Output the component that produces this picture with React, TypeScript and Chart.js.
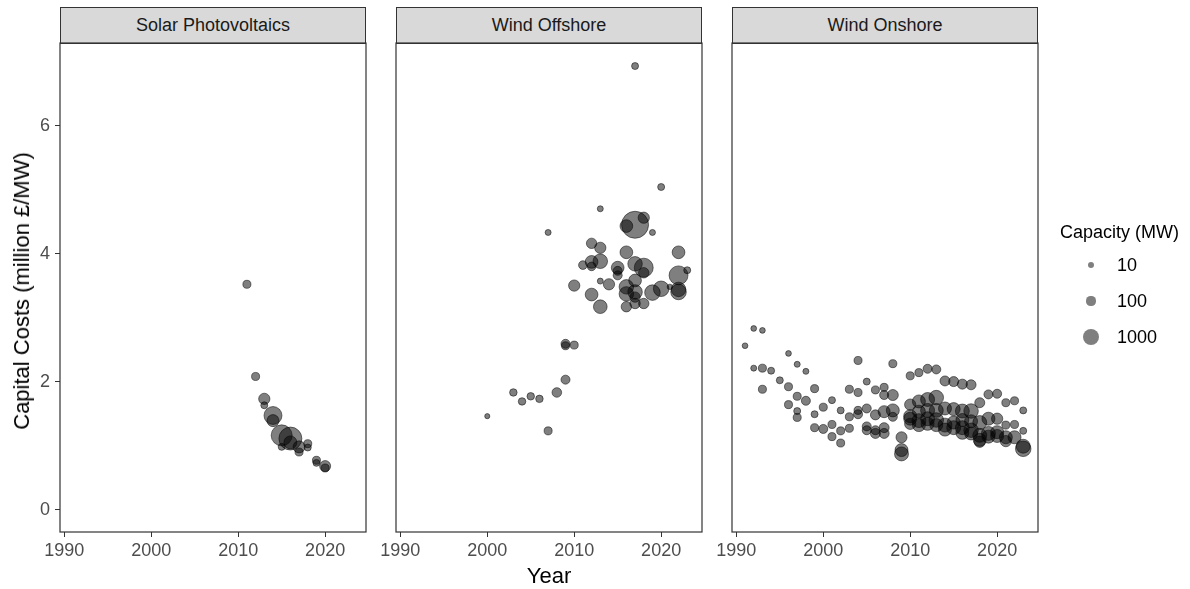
import { useEffect, useRef } from "react";
import { Chart, registerables, type Plugin } from "chart.js";

Chart.register(...registerables);

// axis ticks and facet names
const xTicks = [1990, 2000, 2010, 2020];
const yTicks = [0, 2, 4, 6];
const facetNames = ["Solar Photovoltaics", "Wind Offshore", "Wind Onshore"];
const legendCapacity = [10, 100, 1000];

// Solar Photovoltaics
const solarYear = [2011, 2012, 2013, 2013, 2014, 2014, 2015, 2016, 2015, 2016, 2017, 2017, 2018, 2018, 2019, 2019, 2020, 2020];
const solarCost = [3.52, 2.08, 1.73, 1.63, 1.47, 1.39, 1.16, 1.11, 0.98, 1.05, 0.98, 0.9, 1.03, 0.97, 0.77, 0.73, 0.68, 0.65];
const solarCapacity = [100, 100, 400, 46, 1650, 500, 2500, 3150, 46, 640, 500, 100, 100, 46, 100, 46, 370, 100];

// Wind Offshore
const offshoreYear = [
  2000, 2003, 2004, 2005, 2006, 2007, 2007, 2008, 2009, 2009, 2009, 2010, 2010, 2011, 2012, 2012, 2012, 2012,
  2013, 2013, 2013, 2013, 2013, 2014, 2015, 2015, 2015, 2016, 2016, 2016, 2016, 2016, 2017, 2017, 2017, 2017,
  2017, 2017, 2017, 2018, 2018, 2018, 2018, 2019, 2019, 2020, 2020, 2021, 2022, 2022, 2022, 2022, 2023,
];
const offshoreCost = [
  1.46, 1.83, 1.69, 1.77, 1.73, 4.33, 1.23, 1.83, 2.59, 2.56, 2.03, 2.57, 3.5, 3.82, 4.16, 3.87, 3.8, 3.36,
  4.7, 4.09, 3.88, 3.57, 3.17, 3.52, 3.78, 3.73, 3.66, 4.43, 4.02, 3.48, 3.37, 3.17, 6.93, 4.45, 3.84, 3.58,
  3.4, 3.32, 3.22, 4.56, 3.78, 3.7, 3.22, 4.33, 3.39, 5.04, 3.45, 3.48, 4.02, 3.66, 3.44, 3.4, 3.74,
];
const offshoreCapacity = [
  1, 70, 70, 70, 70, 14, 100, 220, 170, 100, 170, 100, 400, 140, 300, 600, 140, 600,
  14, 400, 900, 14, 750, 400, 600, 170, 170, 600, 600, 900, 900, 300, 46, 4700, 900, 600,
  900, 300, 300, 400, 1900, 300, 300, 14, 1100, 46, 1100, 4, 600, 1900, 900, 1100, 46,
];

// Wind Onshore
const onshoreYear = [
  1991, 1992, 1993, 1992, 1993, 1994, 1993, 1996, 1995, 1997, 1998, 1996, 1997, 1998, 1996, 1997, 1997, 1999,
  1999, 1999, 2000, 2000, 2001, 2001, 2001, 2002, 2002, 2002, 2003, 2003, 2003, 2004, 2004, 2004, 2004, 2005,
  2005, 2005, 2005, 2006, 2006, 2006, 2006, 2007, 2007, 2007, 2007, 2007, 2008, 2008, 2008, 2008, 2009, 2009,
  2009, 2010, 2010, 2010, 2010, 2010, 2011, 2011, 2011, 2011, 2011, 2012, 2012, 2012, 2012, 2012, 2013, 2013,
  2013, 2013, 2013, 2014, 2014, 2014, 2014, 2015, 2015, 2015, 2015, 2016, 2016, 2016, 2016, 2016, 2017, 2017,
  2017, 2017, 2017, 2018, 2018, 2018, 2018, 2018, 2019, 2019, 2019, 2019, 2020, 2020, 2020, 2020, 2021, 2021,
  2021, 2021, 2022, 2022, 2022, 2023, 2023, 2023, 2023,
];
const onshoreCost = [
  2.56, 2.83, 2.8, 2.21, 2.21, 2.17, 1.88, 2.44, 2.02, 2.27, 2.16, 1.92, 1.77, 1.7, 1.64, 1.54, 1.44, 1.89,
  1.49, 1.28, 1.26, 1.6, 1.71, 1.33, 1.14, 1.55, 1.23, 1.04, 1.45, 1.27, 1.88, 2.33, 1.83, 1.55, 1.49, 2.0,
  1.58, 1.3, 1.24, 1.87, 1.48, 1.24, 1.19, 1.91, 1.79, 1.53, 1.28, 1.19, 2.28, 1.79, 1.55, 1.45, 1.13, 0.93,
  0.87, 2.09, 1.64, 1.46, 1.42, 1.34, 2.14, 1.69, 1.53, 1.39, 1.32, 2.2, 1.72, 1.55, 1.42, 1.34, 2.19, 1.75,
  1.55, 1.4, 1.32, 2.01, 1.58, 1.32, 1.25, 2.0, 1.57, 1.28, 1.36, 1.96, 1.54, 1.28, 1.4, 1.2, 1.95, 1.54,
  1.24, 1.38, 1.19, 1.67, 1.36, 1.16, 1.09, 1.06, 1.8, 1.42, 1.19, 1.14, 1.81, 1.42, 1.21, 1.15, 1.67, 1.32,
  1.13, 1.07, 1.7, 1.33, 1.13, 1.55, 1.23, 0.99, 0.95,
];
const onshoreCapacity = [
  8, 8, 8, 14, 100, 46, 100, 8, 46, 14, 14, 100, 100, 170, 100, 46, 100, 100,
  46, 100, 170, 100, 46, 100, 100, 46, 100, 100, 100, 100, 100, 100, 100, 100, 170, 46,
  170, 170, 170, 100, 260, 170, 260, 100, 170, 500, 260, 260, 100, 370, 640, 170, 370, 640,
  800, 100, 400, 640, 640, 400, 100, 640, 640, 800, 640, 170, 800, 800, 800, 640, 170, 900,
  800, 900, 640, 260, 640, 800, 640, 260, 640, 800, 640, 260, 800, 800, 640, 640, 260, 900,
  900, 640, 640, 260, 800, 800, 640, 400, 170, 640, 800, 640, 170, 400, 640, 640, 100, 100,
  640, 400, 100, 100, 640, 46, 46, 800, 1100,
];

const W = 1190;
const H = 589;
const PANEL_TOP = 43;
const PANEL_BOTTOM = 532;
const PANEL_LEFT = [60, 396, 732];
const PANEL_W = 306;
const Y_AXIS_W = 60;
const SIDE_PAD = 26;
const X_AXIS_H = 30;
const FONT = "'Liberation Sans', Arial, sans-serif";
const DOT = "rgba(0,0,0,0.5)";

// ggplot-like area scale, visual radius in px
const dotRadius = (mw: number) => 2.9 + 0.162 * Math.sqrt(mw);

const panelBox: Plugin = {
  id: "panelBox",
  afterDraw(chart) {
    const { ctx, chartArea: a } = chart;
    ctx.save();
    ctx.strokeStyle = "#333333";
    ctx.lineWidth = 1.2;
    ctx.strokeRect(a.left, a.top, a.right - a.left, a.bottom - a.top);
    ctx.restore();
  },
};

interface FacetProps {
  index: number;
  years: number[];
  cost: number[];
  capacity: number[];
}

function Facet({ index, years, cost, capacity }: FacetProps) {
  const canvasRef = useRef<HTMLCanvasElement>(null);
  const first = index === 0;
  // every canvas keeps a 60px y-axis slot, only the first panel shows it
  const canvasLeft = PANEL_LEFT[index] - Y_AXIS_W;
  const canvasW = Y_AXIS_W + PANEL_W + SIDE_PAD;

  useEffect(() => {
    if (!canvasRef.current) return;
    const tickFont = { family: FONT, size: 18 };

    const chart = new Chart(canvasRef.current, {
      type: "bubble",
      data: {
        datasets: [
          {
            data: years.map((x, i) => ({ x, y: cost[i], r: dotRadius(capacity[i]) - 0.5 })),
            backgroundColor: DOT,
            borderColor: DOT,
            borderWidth: 1,
          },
        ],
      },
      options: {
        responsive: false,
        animation: false,
        events: [],
        layout: {
          padding: {
            left: 0,
            right: SIDE_PAD,
            top: PANEL_TOP,
            bottom: H - PANEL_BOTTOM - X_AXIS_H,
          },
        },
        plugins: { legend: { display: false }, tooltip: { enabled: false } },
        scales: {
          x: {
            type: "linear",
            min: 1989.5,
            max: 2024.7,
            afterBuildTicks: (s) => {
              s.ticks = xTicks.map((value) => ({ value }));
            },
            afterFit: (s) => {
              s.height = X_AXIS_H;
            },
            grid: { drawOnChartArea: false, drawTicks: true, tickLength: 5, color: "#333333" },
            border: { display: false },
            ticks: {
              color: "#4D4D4D",
              font: tickFont,
              padding: 3,
              maxRotation: 0,
              autoSkip: false,
              callback: (v) => String(v),
            },
          },
          y: {
            type: "linear",
            display: first,
            min: -0.35,
            max: 7.29,
            afterBuildTicks: (s) => {
              s.ticks = yTicks.map((value) => ({ value }));
            },
            afterFit: (s) => {
              s.width = Y_AXIS_W;
            },
            grid: { drawOnChartArea: false, drawTicks: true, tickLength: 5, color: "#333333" },
            border: { display: false },
            ticks: {
              color: "#4D4D4D",
              font: tickFont,
              padding: 5,
              callback: (v) => String(v),
            },
          },
        },
      },
      plugins: [panelBox],
    });

    return () => chart.destroy();
  }, [index, years, cost, capacity, first]);

  return (
    <>
      <div
        style={{
          position: "absolute",
          left: PANEL_LEFT[index],
          top: 7,
          width: PANEL_W,
          height: PANEL_TOP - 7 + 1,
          boxSizing: "border-box",
          background: "#D9D9D9",
          border: "1.2px solid #333333",
          display: "flex",
          alignItems: "center",
          justifyContent: "center",
          fontSize: 18,
          color: "#1A1A1A",
        }}
      >
        {facetNames[index]}
      </div>
      <canvas
        ref={canvasRef}
        width={canvasW}
        height={H}
        style={{ position: "absolute", left: canvasLeft, top: 0 }}
      />
    </>
  );
}

export default function App() {
  return (
    <div
      style={{
        position: "absolute",
        left: 0,
        top: 0,
        width: W,
        height: H,
        background: "#ffffff",
        fontFamily: FONT,
        overflow: "hidden",
      }}
    >
      <Facet index={0} years={solarYear} cost={solarCost} capacity={solarCapacity} />
      <Facet index={1} years={offshoreYear} cost={offshoreCost} capacity={offshoreCapacity} />
      <Facet index={2} years={onshoreYear} cost={onshoreCost} capacity={onshoreCapacity} />

      <div
        style={{
          position: "absolute",
          left: 22,
          top: 291,
          transform: "translate(-50%, -50%) rotate(-90deg)",
          whiteSpace: "nowrap",
          fontSize: 22,
          color: "#000",
        }}
      >
        Capital Costs (million £/MW)
      </div>
      <div
        style={{
          position: "absolute",
          left: 549,
          top: 576,
          transform: "translate(-50%, -50%)",
          fontSize: 22,
          color: "#000",
        }}
      >
        Year
      </div>

      <div
        style={{
          position: "absolute",
          left: 1060,
          top: 232,
          transform: "translateY(-50%)",
          fontSize: 18,
          lineHeight: 1,
          color: "#000",
        }}
      >
        Capacity (MW)
      </div>
      {legendCapacity.map((c, i) => {
        const d = dotRadius(c) * 2;
        const cy = 265 + i * 36;
        return (
          <div key={c}>
            <div
              style={{
                position: "absolute",
                left: 1091 - d / 2,
                top: cy - d / 2,
                width: d,
                height: d,
                borderRadius: "50%",
                background: DOT,
              }}
            />
            <div
              style={{
                position: "absolute",
                left: 1117,
                top: cy,
                transform: "translateY(-50%)",
                fontSize: 18,
                lineHeight: 1,
                color: "#000",
              }}
            >
              {c}
            </div>
          </div>
        );
      })}
    </div>
  );
}
